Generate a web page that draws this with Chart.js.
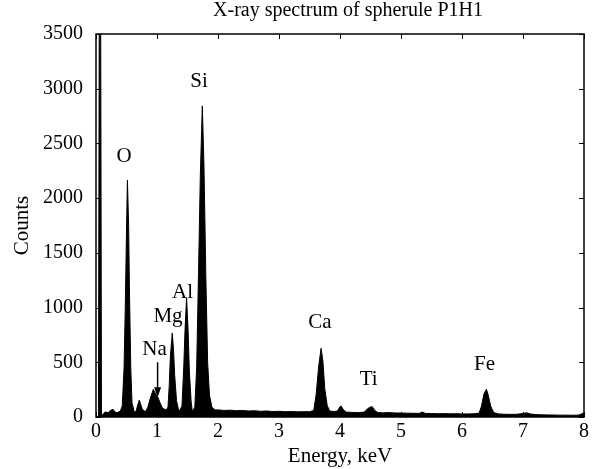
<!doctype html>
<html lang="en">
<head>
    <meta charset="UTF-8">
    <script src="https://cdn.jsdelivr.net/npm/chart.js"></script>
    <title>X-ray spectrum of spherule P1H1</title>
    <style>
        body { margin: 0; background: #fff; }
    </style>
</head>
<body>
<canvas id="chart" width="593" height="469"></canvas>
<script>
    // spectrum (keV, counts)
    const energy = [
        0.00, 0.04, 0.055, 0.075, 0.09, 0.10, 0.12, 0.15, 0.20, 0.25, 0.28, 0.31, 0.35, 0.40,
        0.43, 0.46, 0.48, 0.50, 0.515, 0.535, 0.55, 0.57, 0.59, 0.63,
        0.66, 0.69, 0.71, 0.73, 0.76, 0.81,
        0.85, 0.89, 0.94, 0.97, 1.01, 1.05, 1.09, 1.15,
        1.18, 1.20, 1.22, 1.25, 1.27, 1.29, 1.32, 1.36,
        1.41, 1.44, 1.46, 1.485, 1.51, 1.53, 1.56, 1.58,
        1.62, 1.65, 1.68, 1.71, 1.743, 1.77, 1.80, 1.83, 1.86, 1.90, 1.95,
        2.0, 2.1, 2.2, 2.3, 2.4, 2.5, 2.6, 2.7, 2.8, 2.9, 3.0, 3.1, 3.2, 3.3, 3.4, 3.5,
        3.57, 3.61, 3.65, 3.69, 3.72, 3.75, 3.79, 3.83, 3.90,
        3.96, 4.00, 4.02, 4.05, 4.10, 4.20, 4.30, 4.40, 4.45, 4.50, 4.53, 4.57, 4.62,
        4.7, 4.8, 4.9, 5.0, 5.1, 5.2, 5.3, 5.35, 5.4, 5.5, 5.6, 5.7, 5.8, 5.9, 6.0, 6.1, 6.2,
        6.28, 6.32, 6.36, 6.40, 6.43, 6.47, 6.52, 6.6, 6.7, 6.8, 6.9, 7.0, 7.06, 7.12,
        7.2, 7.3, 7.4, 7.5, 7.6, 7.7, 7.8, 7.9, 7.95, 8.0
    ];
    const counts = [
        0, 0, 4200, 4200, 0, 10, 30, 45, 40, 64, 70, 45, 40, 55,
        100, 450, 1000, 1700, 2166, 1750, 1100, 450, 130, 40,
        60, 120, 155, 120, 70, 48,
        90, 170, 253, 220, 186, 130, 80, 64,
        90, 280, 560, 768, 620, 380, 150, 48,
        100, 480, 800, 1088, 790, 420, 140, 48,
        90, 450, 1300, 2200, 2843, 2300, 1300, 500, 200, 90, 64,
        65, 60, 62, 58, 60, 55, 57, 52, 55, 50, 52, 48, 50, 47, 49, 48,
        60, 210, 460, 628, 510, 260, 105, 55, 50,
        55, 95, 100, 70, 45, 42, 40, 45, 75, 92, 94, 60, 40,
        38, 40, 37, 36, 35, 34, 33, 45, 33, 32, 30, 31, 29, 30, 28, 28, 30,
        35, 100, 210, 253, 200, 100, 40, 28, 25, 24, 25, 32, 38, 28,
        22, 20, 19, 18, 17, 17, 16, 17, 25, 40
    ];

    // element labels and where they sit (keV, counts at text baseline)
    const peakNames = ['O', 'Si', 'Al', 'Mg', 'Na', 'Ca', 'Ti', 'Fe'];
    const peakLabelE = [0.46, 1.69, 1.42, 1.18, 0.96, 3.67, 4.47, 6.37];
    const peakLabelC = [2334, 3016, 1088, 868, 567, 814, 293, 430];

    // Na arrow: from (keV, counts) to (keV, counts)
    const arrowFrom = [1.01, 500];
    const arrowTo = [1.01, 180];

    const xTicks = [0, 1, 2, 3, 4, 5, 6, 7, 8];
    const yTicks = [0, 500, 1000, 1500, 2000, 2500, 3000, 3500];

    const FONT = 'Liberation Serif, Times New Roman, serif';

    const decorations = {
        id: 'decorations',
        afterDatasetsDraw(chart) {
            const {ctx, chartArea: a, scales: {x, y}} = chart;
            ctx.save();
            ctx.strokeStyle = '#000';
            ctx.lineWidth = 1.5;
            ctx.strokeRect(a.left, a.top, a.right - a.left, a.bottom - a.top);
            ctx.lineWidth = 1;
            ctx.beginPath();
            xTicks.forEach(t => {
                const px = Math.round(x.getPixelForValue(t)) + 0.5;
                ctx.moveTo(px, a.bottom); ctx.lineTo(px, a.bottom - 5);
                ctx.moveTo(px, a.top); ctx.lineTo(px, a.top + 5);
            });
            yTicks.forEach(t => {
                const py = Math.round(y.getPixelForValue(t)) + 0.5;
                ctx.moveTo(a.left, py); ctx.lineTo(a.left + 5, py);
                ctx.moveTo(a.right, py); ctx.lineTo(a.right - 5, py);
            });
            ctx.stroke();

            // peak labels
            ctx.fillStyle = '#000';
            ctx.font = '21px ' + FONT;
            ctx.textAlign = 'center';
            ctx.textBaseline = 'alphabetic';
            peakNames.forEach((n, i) => {
                ctx.fillText(n, x.getPixelForValue(peakLabelE[i]), y.getPixelForValue(peakLabelC[i]));
            });

            // arrow
            const x1 = x.getPixelForValue(arrowFrom[0]), y1 = y.getPixelForValue(arrowFrom[1]);
            const x2 = x.getPixelForValue(arrowTo[0]), y2 = y.getPixelForValue(arrowTo[1]);
            ctx.lineWidth = 1.5;
            ctx.beginPath();
            ctx.moveTo(x1, y1); ctx.lineTo(x2, y2 - 6);
            ctx.stroke();
            ctx.beginPath();
            ctx.moveTo(x2, y2);
            ctx.lineTo(x2 - 3.5, y2 - 10);
            ctx.lineTo(x2 + 3.5, y2 - 10);
            ctx.closePath();
            ctx.fill();

            // title
            ctx.font = '20px ' + FONT;
            ctx.textBaseline = 'middle';
            ctx.fillText('X-ray spectrum of spherule P1H1', (a.left + a.right) / 2 + 8, 11);
            ctx.restore();
        }
    };

    new Chart(document.getElementById('chart'), {
        type: 'line',
        data: {
            datasets: [{
                data: energy.map((e, i) => ({x: e, y: counts[i]})),
                borderColor: '#000',
                backgroundColor: '#000',
                borderWidth: 1,
                fill: 'origin',
                pointRadius: 0,
                tension: 0
            }]
        },
        options: {
            responsive: false,
            animation: false,
            devicePixelRatio: 1,
            layout: {padding: {top: 34, right: 9, left: 0, bottom: 0}},
            plugins: {legend: {display: false}, tooltip: {enabled: false}},
            scales: {
                x: {
                    type: 'linear',
                    min: 0, max: 8,
                    afterBuildTicks: s => { s.ticks = xTicks.map(v => ({value: v})); },
                    afterFit: s => { s.height = 52; },
                    grid: {display: false, drawTicks: false},
                    border: {display: false},
                    ticks: {color: '#000', font: {family: FONT, size: 20}, padding: 3, maxRotation: 0,
                        callback: v => String(v)},
                    title: {display: true, text: 'Energy, keV', color: '#000',
                        font: {family: FONT, size: 21}, padding: {top: 0, bottom: 0}}
                },
                y: {
                    min: 0, max: 3500,
                    afterBuildTicks: s => { s.ticks = yTicks.map(v => ({value: v})); },
                    afterFit: s => { s.width = 96; },
                    grid: {display: false, drawTicks: false},
                    border: {display: false},
                    ticks: {color: '#000', font: {family: FONT, size: 20}, padding: 13,
                        callback: v => String(v)},
                    title: {display: true, text: 'Counts', color: '#000',
                        font: {family: FONT, size: 21}, padding: {top: 10, bottom: 0}}
                }
            }
        },
        plugins: [decorations]
    });
</script>
</body>
</html>
